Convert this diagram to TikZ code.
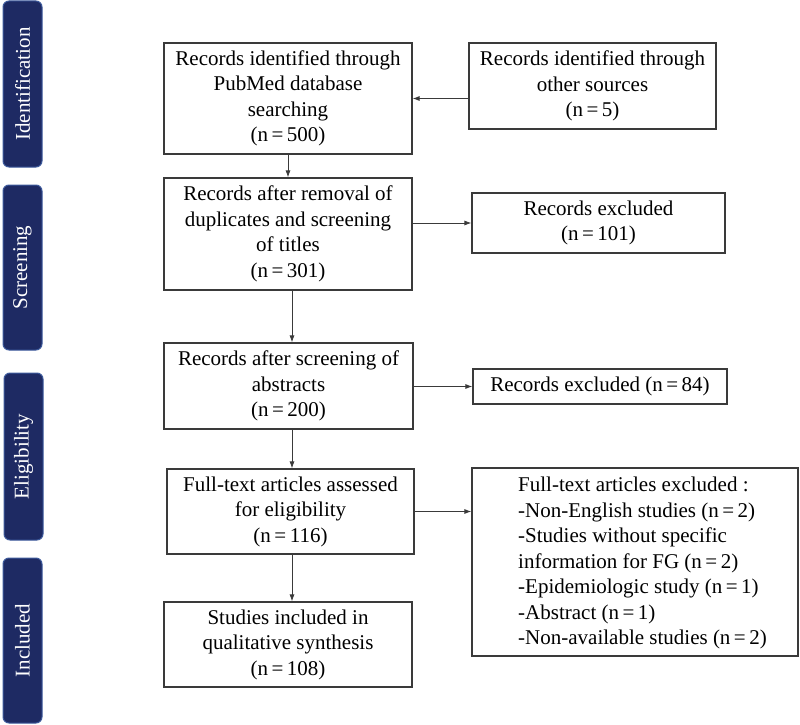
\documentclass[tikz,border=0pt]{standalone}
\usepackage{fontspec}
\setmainfont{Liberation Serif}
\usetikzlibrary{arrows.meta}
\definecolor{navy}{HTML}{1E2A63}
\definecolor{navyedge}{HTML}{3D5A9C}
\definecolor{boxline}{HTML}{3A3A3A}
\begin{document}
\begin{tikzpicture}[x=1pt,y=-1pt,
  every node/.style={font=\fontsize{21}{25.5}\selectfont},
  flowbox/.style={draw=boxline, line width=1.1pt, rectangle, align=center, inner sep=0pt},
  phase/.style={draw=navyedge, line width=1pt, fill=navy, rounded corners=6pt, minimum width=39, text=white, inner sep=0pt},
  conn/.style={draw=boxline, line width=0.9pt, -{Latex[length=7pt,width=5pt]}}]
\useasboundingbox (0,0) rectangle (800,725);
% phase labels
\node[phase, minimum height=166] (pid) at (22.5,84) {};
\node[rotate=90, text=white] (tid) at (pid.center) {Identification};
\node[phase, minimum height=165] (psc) at (22.5,267.5) {};
\node[rotate=90, text=white] (tsc) at (psc.center) {Screening};
\node[phase, minimum height=167] (pel) at (23.5,456.5) {};
\node[rotate=90, text=white] (tel) at (pel.center) {Eligibility};
\node[phase, minimum height=165] (pin) at (22.5,640.5) {};
\node[rotate=90, text=white] (tin) at (pin.center) {Included};
% main column
\node[flowbox, minimum width=248, minimum height=111] (b1) at (288,98.5)
  {Records identified through\\PubMed database\\searching\\(n\,=\,500)};
\node[flowbox, minimum width=248, minimum height=112] (b2) at (288,234)
  {Records after removal of\\duplicates and screening\\of titles\\(n\,=\,301)};
\node[flowbox, minimum width=249, minimum height=86] (b3) at (288.5,386)
  {Records after screening of\\abstracts\\(n\,=\,200)};
\node[flowbox, minimum width=247, minimum height=85] (b4) at (290.5,511.5)
  {Full-text articles assessed\\for eligibility\\(n\,=\,116)};
\node[flowbox, minimum width=248, minimum height=85] (b5) at (288,644.5)
  {Studies included in\\qualitative synthesis\\(n\,=\,108)};
% right column
\node[flowbox, minimum width=247, minimum height=86] (o1) at (592.5,86)
  {Records identified through\\other sources\\(n\,=\,5)};
\node[flowbox, minimum width=253, minimum height=60] (e1) at (598.5,223)
  {Records excluded\\(n\,=\,101)};
\node[flowbox, minimum width=254, minimum height=35] (e2) at (600,386.5)
  {Records excluded (n\,=\,84)};
\node[flowbox, minimum width=326, minimum height=188] (e3) at (635,562) {};
\node[anchor=west, align=left, inner sep=0pt] (e3t) at (518,563)
  {Full-text articles excluded :\\
   -Non-English studies (n\,=\,2)\\
   -Studies without specific\\
   information for FG (n\,=\,2)\\
   -Epidemiologic study (n\,=\,1)\\
   -Abstract (n\,=\,1)\\
   -Non-available studies (n\,=\,2)};
% connectors
\coordinate (c1) at (292,0);
\draw[conn] (b1.south) -- (b2.north);
\draw[conn] (b2.south -| c1) -- (b3.north -| c1);
\draw[conn] (b3.south -| c1) -- (b4.north -| c1);
\draw[conn] (b4.south -| c1) -- (b5.north -| c1);
\draw[conn] (o1.west |- b1.east) -- (b1.east);
\draw[conn] (b2.east |- e1.west) -- (e1.west);
\draw[conn] (b3.east |- e2.west) -- (e2.west);
\draw[conn] (b4.east) -- (e3.west |- b4.east);
\end{tikzpicture}
\end{document}
